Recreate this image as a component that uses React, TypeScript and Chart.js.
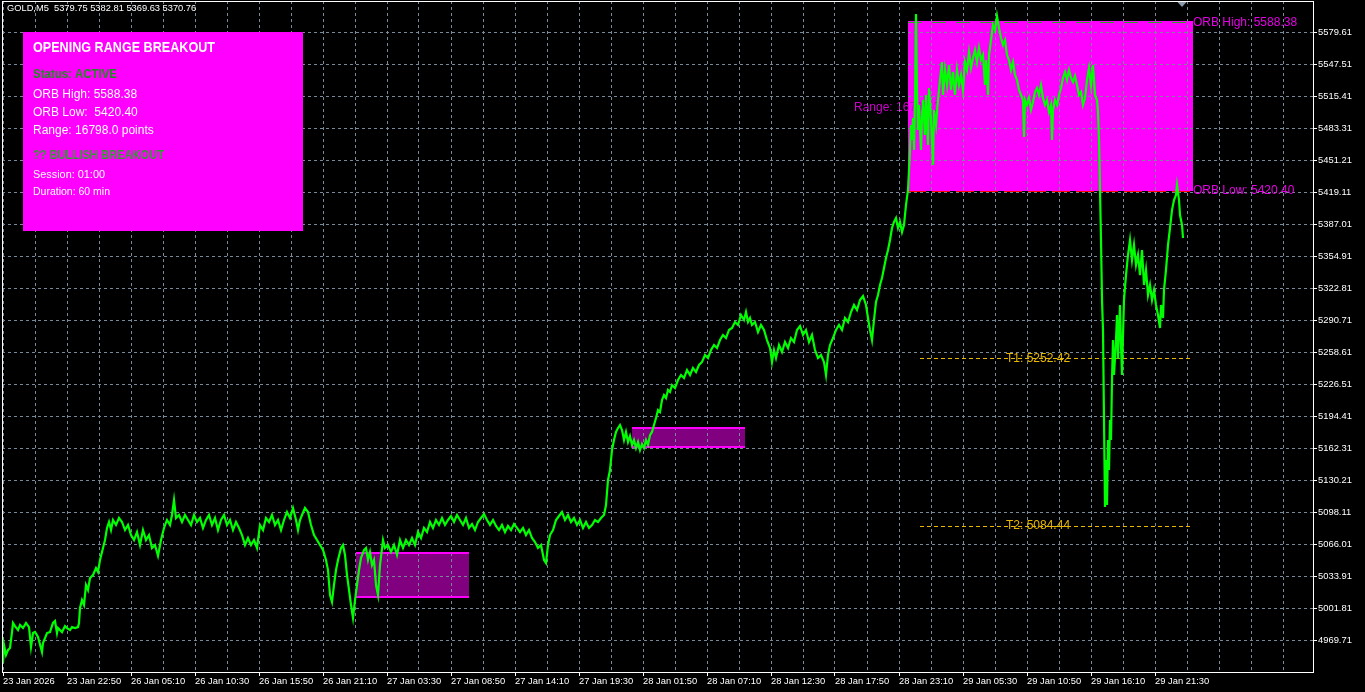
import React, { useEffect, useRef } from 'react';
import { Chart, registerables } from 'chart.js';

Chart.register(...registerables);

// ---------- DATA ----------
const symbolHeader = 'GOLD,M5  5379.75 5382.81 5369.63 5370.76';

const xTickLabels = [
  '23 Jan 2026', '23 Jan 22:50', '26 Jan 05:10', '26 Jan 10:30', '26 Jan 15:50',
  '26 Jan 21:10', '27 Jan 03:30', '27 Jan 08:50', '27 Jan 14:10', '27 Jan 19:30',
  '28 Jan 01:50', '28 Jan 07:10', '28 Jan 12:30', '28 Jan 17:50', '28 Jan 23:10',
  '29 Jan 05:30', '29 Jan 10:50', '29 Jan 16:10', '29 Jan 21:30',
];

const yTickValues = [
  4969.71, 5001.81, 5033.91, 5066.01, 5098.11, 5130.21, 5162.31, 5194.41, 5226.51, 5258.61,
  5290.71, 5322.81, 5354.91, 5387.01, 5419.11, 5451.21, 5483.31, 5515.41, 5547.51, 5579.61,
];

const yMin = 4937.91;
const yMax = 5611.01;
const barCount = 1311;

// price trace: [bar number, price]
const trace23Jan: number[][] = [
  [1, 4946.9], [2, 4965.0], [4, 4955.0], [6, 4960.0], [8, 4962.0], [10, 4978.0], [11, 4987.1], [13, 4984.0],
  [16, 4980.0], [18, 4985.1], [21, 4982.0], [24, 4987.1], [27, 4983.0], [29, 4963.0], [31, 4977.0], [33, 4978.0],
  [36, 4973.0], [40, 4958.0], [41, 4967.0], [45, 4977.0], [48, 4978.0], [51, 4987.1], [53, 4989.1], [55, 4977.0],
  [56, 4982.0], [60, 4978.0], [63, 4984.0], [65, 4982.0], [68, 4980.0], [70, 4983.0], [73, 4982.0], [76, 4983.0],
  [77, 4987.1], [78, 5002.1],
];

const trace26to28Jan: number[][] = [
  [80, 5010.1], [82, 5005.1], [84, 5025.2], [86, 5020.2], [88, 5032.2], [91, 5035.2], [94, 5042.2], [96, 5038.2],
  [98, 5050.3], [101, 5062.3], [103, 5070.3], [105, 5082.4], [107, 5088.4], [109, 5080.3], [111, 5090.4], [114, 5085.4],
  [117, 5092.4], [120, 5088.4], [123, 5080.3], [126, 5085.4], [129, 5075.3], [132, 5070.3], [135, 5078.3], [138, 5065.3],
  [141, 5080.3], [144, 5070.3], [147, 5075.3], [150, 5062.3], [153, 5065.3], [156, 5054.3], [159, 5070.3], [162, 5082.4],
  [165, 5090.4], [168, 5085.4], [170, 5095.4], [172, 5110.4], [174, 5092.4], [177, 5095.4], [180, 5088.4], [183, 5095.4],
  [186, 5090.4], [189, 5085.4], [192, 5095.4], [195, 5088.4], [198, 5092.4], [201, 5082.4], [204, 5090.4], [207, 5095.4],
  [210, 5085.4], [213, 5092.4], [216, 5080.3], [219, 5090.4], [222, 5095.4], [225, 5085.4], [228, 5090.4], [231, 5080.3],
  [234, 5088.4], [237, 5082.4], [240, 5075.3], [243, 5065.3], [246, 5072.3], [249, 5065.3], [252, 5070.3], [255, 5062.3],
  [258, 5085.4], [261, 5080.3], [264, 5092.4], [267, 5088.4], [270, 5095.4], [273, 5085.4], [276, 5090.4], [279, 5080.3],
  [282, 5090.4], [285, 5098.4], [288, 5092.4], [291, 5102.4], [294, 5090.4], [296, 5080.3], [298, 5090.4], [300, 5095.4],
  [303, 5102.4], [306, 5098.4], [309, 5085.4], [312, 5075.3], [315, 5070.3], [318, 5065.3], [321, 5060.3], [324, 5050.3],
  [326, 5040.2], [328, 5015.1], [330, 5008.1], [332, 5025.2], [334, 5040.2], [336, 5050.3], [339, 5062.3], [341, 5065.3],
  [343, 5055.3], [345, 5035.2], [347, 5020.2], [349, 5005.1], [351, 4992.1], [353, 5010.1], [355, 5025.2], [357, 5040.2],
  [359, 5052.3], [362, 5060.3], [364, 5062.3], [366, 5050.3], [368, 5058.3], [370, 5045.2], [372, 5050.3], [374, 5025.2],
  [376, 5015.1], [378, 5045.2], [381, 5070.3], [383, 5062.3], [386, 5065.3], [389, 5058.3], [392, 5065.3], [395, 5055.3],
  [398, 5070.3], [401, 5062.3], [404, 5070.3], [407, 5065.3], [410, 5072.3], [413, 5065.3], [416, 5078.3], [419, 5072.3],
  [422, 5082.4], [425, 5078.3], [428, 5088.4], [431, 5082.4], [434, 5090.4], [437, 5085.4], [440, 5092.4], [443, 5085.4],
  [446, 5090.4], [449, 5094.4], [452, 5088.4], [455, 5095.4], [458, 5090.4], [461, 5085.4], [464, 5092.4], [467, 5082.4],
  [470, 5086.4], [473, 5080.3], [476, 5088.4], [479, 5092.4], [482, 5096.4], [485, 5090.4], [488, 5085.4], [491, 5090.4],
  [494, 5084.4], [497, 5080.3], [500, 5085.4], [503, 5078.3], [506, 5084.4], [509, 5080.3], [512, 5086.4], [515, 5082.4],
  [518, 5078.3], [521, 5082.4], [524, 5075.3], [527, 5080.3], [530, 5072.3], [533, 5068.3], [536, 5062.3], [539, 5065.3],
  [542, 5050.3], [544, 5047.2], [546, 5065.3], [548, 5075.3], [551, 5080.3], [554, 5090.4], [557, 5094.4], [560, 5098.4],
  [563, 5090.4], [566, 5095.4], [569, 5088.4], [572, 5092.4], [575, 5085.4], [578, 5090.4], [581, 5082.4], [584, 5088.4],
  [587, 5082.4], [590, 5085.4], [593, 5090.4], [596, 5088.4], [599, 5092.4], [602, 5095.4], [604, 5105.4], [606, 5130.5],
  [608, 5140.5], [610, 5160.6], [612, 5170.6], [614, 5178.7], [616, 5182.7], [618, 5185.7], [620, 5180.7], [622, 5170.6],
  [624, 5178.7], [626, 5168.6], [628, 5174.6], [630, 5165.6], [632, 5170.6], [634, 5162.6], [636, 5168.6], [638, 5160.6],
  [640, 5166.6], [642, 5162.6], [644, 5170.6], [646, 5165.6], [648, 5175.6], [650, 5178.7], [652, 5185.7], [654, 5192.7],
  [656, 5200.7], [658, 5198.7], [660, 5210.8], [662, 5215.8], [664, 5212.8], [666, 5220.8], [668, 5218.8], [670, 5225.8],
  [673, 5222.8], [676, 5230.8], [679, 5235.8], [682, 5232.8], [685, 5240.8], [688, 5235.8], [691, 5242.9], [694, 5238.8],
  [697, 5245.9], [700, 5248.9], [703, 5255.9], [706, 5252.9], [709, 5260.9], [712, 5265.9], [715, 5262.9], [718, 5270.9],
  [721, 5276.0], [724, 5272.9], [727, 5281.0], [730, 5283.0], [733, 5289.0], [736, 5286.0], [739, 5296.0], [742, 5291.0],
  [744, 5299.0], [746, 5289.0], [748, 5293.0], [750, 5286.0], [753, 5289.0], [756, 5279.0], [759, 5286.0], [762, 5281.0],
  [765, 5270.9], [768, 5262.9], [770, 5248.9], [772, 5260.9], [774, 5252.9], [777, 5265.9], [780, 5258.9], [783, 5268.9],
  [786, 5262.9], [789, 5272.9], [792, 5268.9], [795, 5281.0], [798, 5285.0], [801, 5276.0], [804, 5281.0], [807, 5268.9],
  [810, 5276.0], [813, 5260.9], [816, 5252.9], [819, 5255.9], [822, 5248.9], [824, 5235.8], [826, 5255.9], [828, 5265.9],
  [831, 5272.9], [834, 5281.0], [837, 5286.0], [840, 5281.0], [843, 5293.0], [846, 5289.0], [849, 5299.0], [852, 5306.1],
  [855, 5301.0], [858, 5311.1], [861, 5315.1], [864, 5306.1], [866, 5293.0], [868, 5281.0], [870, 5270.9], [872, 5291.0],
  [874, 5309.1], [876, 5316.1], [878, 5326.1], [880, 5333.1], [882, 5343.2], [884, 5353.2], [886, 5361.2], [888, 5371.3],
  [890, 5383.3], [892, 5389.3], [894, 5393.3], [896, 5383.3], [898, 5389.3], [900, 5379.3], [902, 5386.3], [904, 5406.4],
  [906, 5421.4],
];

const traceOrbWindow: number[][] = [
  [907, 5441.5], [908, 5461.5], [909, 5486.6], [910, 5471.6], [911, 5493.6], [912, 5461.5], [913, 5511.7], [914, 5598.0],
  [915, 5521.7], [916, 5481.6], [917, 5506.7], [919, 5461.5], [920, 5493.6], [921, 5511.7], [923, 5476.6], [924, 5516.7],
  [926, 5466.5], [927, 5523.7], [929, 5491.6], [931, 5446.5], [932, 5501.7], [934, 5486.6], [936, 5511.7], [938, 5531.8],
  [940, 5549.8], [941, 5516.7], [943, 5541.8], [945, 5526.7], [947, 5546.8], [949, 5521.7], [951, 5539.8], [953, 5516.7],
  [955, 5541.8], [957, 5526.7], [959, 5536.8], [961, 5521.7], [963, 5549.8], [965, 5541.8], [967, 5559.8], [969, 5543.8],
  [971, 5553.8], [973, 5561.8], [975, 5549.8], [977, 5563.9], [979, 5551.8], [981, 5556.8], [983, 5526.7], [984, 5551.8],
  [986, 5516.7], [987, 5556.8], [989, 5571.9], [991, 5586.9], [993, 5581.9], [995, 5596.0], [997, 5583.9], [999, 5573.9],
  [1001, 5566.9], [1003, 5571.9], [1005, 5556.8], [1007, 5551.8], [1009, 5541.8], [1011, 5549.8], [1013, 5536.8], [1015, 5531.8],
  [1017, 5521.7], [1019, 5516.7], [1021, 5511.7], [1022, 5474.6], [1023, 5511.7], [1025, 5506.7], [1027, 5513.7], [1029, 5501.7],
  [1031, 5509.7], [1033, 5519.7], [1035, 5523.7], [1037, 5516.7], [1039, 5526.7], [1041, 5513.7], [1043, 5506.7], [1045, 5511.7],
  [1047, 5499.7], [1049, 5506.7], [1050, 5471.6], [1051, 5501.7], [1053, 5511.7], [1055, 5506.7], [1057, 5516.7], [1059, 5523.7],
  [1061, 5533.8], [1063, 5539.8], [1065, 5531.8], [1067, 5541.8], [1069, 5533.8], [1071, 5529.7], [1073, 5535.8], [1075, 5526.7],
  [1077, 5516.7], [1079, 5519.7], [1081, 5506.7], [1083, 5513.7], [1085, 5531.8], [1087, 5543.8], [1089, 5526.7], [1091, 5546.8],
  [1093, 5516.7], [1095, 5511.7], [1096, 5499.7], [1097, 5471.6], [1098, 5421.4],
];

const traceAfterBreak: number[][] = [
  [1099, 5371.3], [1100, 5311.1], [1101, 5281.0], [1102, 5190.7], [1103, 5103.4], [1104, 5150.6], [1105, 5105.4], [1106, 5170.6],
  [1107, 5140.5], [1108, 5190.7], [1109, 5170.6], [1110, 5230.8], [1111, 5270.9], [1112, 5235.8], [1114, 5270.9], [1115, 5296.0],
  [1116, 5251.9], [1117, 5281.0], [1118, 5306.1], [1119, 5265.9], [1120, 5235.8], [1121, 5276.0], [1122, 5311.1], [1124, 5336.1],
  [1126, 5356.2], [1128, 5371.3], [1130, 5351.2], [1132, 5366.2], [1134, 5346.2], [1136, 5356.2], [1138, 5336.1], [1140, 5361.2],
  [1142, 5326.1], [1144, 5341.2], [1146, 5316.1], [1148, 5326.1], [1150, 5311.1], [1152, 5321.1], [1154, 5306.1], [1156, 5296.0],
  [1158, 5283.0], [1159, 5306.1], [1161, 5293.0], [1162, 5321.1], [1164, 5341.2], [1166, 5366.2], [1168, 5383.3], [1170, 5401.3],
  [1172, 5411.4], [1174, 5416.4], [1175, 5426.4], [1177, 5411.4], [1178, 5396.3], [1180, 5386.3], [1181, 5373.3],
];

// opening ranges (previous sessions + current ORB box)
const rangeStartBar = [354, 630, 906];
const rangeEndBar = [467, 743, 1191];
const rangeTop = [5057.6, 5182.7, 5590.9];
const rangeBottom = [5013.2, 5163.7, 5420.4];

const orbHigh = 5588.38;
const orbLow = 5420.4;

const targetNames = ['T1', 'T2'];
const targetValues = [5252.42, 5084.44];
const targetStartBar = 918;
const targetEndBar = 1191;
const targetLabelBar = 1004;
const rangeLabelBar = 852;

// ---------- STYLE ----------
const FONT = '"Liberation Sans", Arial, Helvetica, sans-serif';
const GRID = '#778899';
const GOLD = '#e8b800';

const mtPlugin = {
  id: 'mtOverlay',
  beforeDraw(chart: any) {
    const { ctx } = chart;
    const xs = chart.scales.x;
    const ys = chart.scales.y;
    ctx.save();
    ctx.fillStyle = '#000000';
    ctx.fillRect(0, 0, chart.width, chart.height);
    for (let i = 0; i < rangeStartBar.length; i++) {
      const l = xs.getPixelForValue(rangeStartBar[i]);
      const r = xs.getPixelForValue(rangeEndBar[i]);
      const t = ys.getPixelForValue(rangeTop[i]);
      const b = ys.getPixelForValue(rangeBottom[i]);
      ctx.fillStyle = i === rangeStartBar.length - 1 ? '#ff00ff' : '#800080';
      ctx.fillRect(Math.round(l), Math.round(t), Math.round(r - l), Math.round(b - t));
    }
    const mid = (orbHigh + orbLow) / 2;
    ctx.font = `12px ${FONT}`;
    ctx.fillStyle = '#cc00cc';
    ctx.textBaseline = 'middle';
    ctx.textAlign = 'left';
    ctx.fillText(`Range: ${((orbHigh - orbLow) * 100).toFixed(1)}`, xs.getPixelForValue(rangeLabelBar), ys.getPixelForValue(mid));
    ctx.restore();
  },
  beforeDatasetsDraw(chart: any) {
    const { ctx } = chart;
    const xs = chart.scales.x;
    const ys = chart.scales.y;
    ctx.save();
    for (let i = 0; i < rangeStartBar.length - 1; i++) {
      const l = xs.getPixelForValue(rangeStartBar[i]);
      const r = xs.getPixelForValue(rangeEndBar[i]);
      ctx.strokeStyle = '#ff00ff';
      ctx.lineWidth = 2;
      for (const v of [rangeTop[i], rangeBottom[i]]) {
        const y = Math.round(ys.getPixelForValue(v));
        ctx.beginPath();
        ctx.moveTo(l, y);
        ctx.lineTo(r, y);
        ctx.stroke();
      }
    }
    const k = rangeStartBar.length - 1;
    const l = xs.getPixelForValue(rangeStartBar[k]);
    const r = xs.getPixelForValue(rangeEndBar[k]);
    ctx.lineWidth = 1;
    ctx.setLineDash([14, 10]);
    ctx.strokeStyle = '#2e9e2e';
    let y = Math.round(ys.getPixelForValue(rangeTop[k])) + 1.5;
    ctx.beginPath(); ctx.moveTo(l, y); ctx.lineTo(r, y); ctx.stroke();
    ctx.setLineDash([18, 6]);
    ctx.strokeStyle = '#ff0000';
    y = Math.round(ys.getPixelForValue(orbLow)) + 0.5;
    ctx.beginPath(); ctx.moveTo(l, y); ctx.lineTo(r, y); ctx.stroke();
    ctx.setLineDash([4, 3]);
    ctx.strokeStyle = GOLD;
    for (let i = 0; i < targetValues.length; i++) {
      const ty = Math.round(ys.getPixelForValue(targetValues[i])) + 0.5;
      ctx.beginPath();
      ctx.moveTo(xs.getPixelForValue(targetStartBar), ty);
      ctx.lineTo(xs.getPixelForValue(targetEndBar), ty);
      ctx.stroke();
    }
    ctx.restore();
  },
  afterDraw(chart: any) {
    const { ctx, chartArea: a } = chart;
    const xs = chart.scales.x;
    const ys = chart.scales.y;
    ctx.save();
    ctx.textBaseline = 'middle';
    ctx.textAlign = 'left';
    ctx.font = `12px ${FONT}`;
    ctx.fillStyle = GOLD;
    for (let i = 0; i < targetValues.length; i++) {
      ctx.fillText(`${targetNames[i]}: ${targetValues[i].toFixed(2)}`, xs.getPixelForValue(targetLabelBar), ys.getPixelForValue(targetValues[i]));
    }
    const k = rangeStartBar.length - 1;
    const rx = xs.getPixelForValue(rangeEndBar[k]);
    ctx.fillStyle = '#e600e6';
    ctx.fillText(`ORB High: ${orbHigh.toFixed(2)}`, rx, ys.getPixelForValue(rangeTop[k]) + 1.5);
    ctx.fillText(`ORB Low: ${orbLow.toFixed(2)}`, rx, ys.getPixelForValue(orbLow));
    ctx.strokeStyle = '#ffffff';
    ctx.lineWidth = 1;
    ctx.strokeRect(Math.round(a.left) + 0.5, Math.round(a.top) + 0.5, Math.round(a.right - a.left), Math.round(a.bottom - a.top));
    ctx.fillStyle = '#8a9aaa';
    ctx.beginPath();
    ctx.moveTo(1177.5, 2); ctx.lineTo(1186.5, 2); ctx.lineTo(1182, 7); ctx.closePath(); ctx.fill();
    ctx.font = `9.3px ${FONT}`;
    ctx.fillStyle = '#ffffff';
    ctx.fillText(symbolHeader, 7, 8.5);
    ctx.fillStyle = '#ff00ff';
    ctx.fillRect(23, 32, 280, 199);
    const panel = [
      { t: 'OPENING RANGE BREAKOUT', y: 48, f: `bold 14px ${FONT}`, c: '#ffffff', w: 182 },
      { t: 'Status: ACTIVE', y: 74.5, f: `bold 12px ${FONT}`, c: '#1c8c1c', w: 84 },
      { t: `ORB High: ${orbHigh.toFixed(2)}`, y: 95, f: `12px ${FONT}`, c: '#ffffff', w: 0 },
      { t: `ORB Low:  ${orbLow.toFixed(2)}`, y: 112.7, f: `12px ${FONT}`, c: '#ffffff', w: 0 },
      { t: `Range: ${((orbHigh - orbLow) * 100).toFixed(1)} points`, y: 130.3, f: `12px ${FONT}`, c: '#ffffff', w: 124 },
      { t: '?? BULLISH BREAKOUT', y: 155.5, f: `bold 12px ${FONT}`, c: '#359a35', w: 131 },
      { t: 'Session: 01:00', y: 175, f: `11px ${FONT}`, c: '#ffffff', w: 72 },
      { t: 'Duration: 60 min', y: 191.5, f: `11px ${FONT}`, c: '#ffffff', w: 77 },
    ];
    for (const p of panel) {
      ctx.font = p.f;
      ctx.fillStyle = p.c;
      if (p.w) ctx.fillText(p.t, 33, p.y, p.w);
      else ctx.fillText(p.t, 33, p.y);
    }
    ctx.restore();
  },
};

export default function App() {
  const ref = useRef<HTMLCanvasElement | null>(null);

  useEffect(() => {
    document.body.style.margin = '0';
    document.body.style.background = '#000';
    const points = [...trace23Jan, ...trace26to28Jan, ...traceOrbWindow, ...traceAfterBreak].map((p) => ({ x: p[0], y: p[1] }));
    const gridBars: number[] = [];
    for (let b = 1; b <= barCount; b += 32) gridBars.push(b);

    const chart = new Chart(ref.current as HTMLCanvasElement, {
      type: 'line',
      data: {
        datasets: [
          {
            data: points,
            borderColor: '#00ff00',
            borderWidth: 2.2,
            pointRadius: 0,
            tension: 0,
            fill: false,
            borderJoinStyle: 'miter',
          } as any,
        ],
      },
      options: {
        animation: false,
        responsive: false,
        maintainAspectRatio: false,
        devicePixelRatio: 1,
        events: [],
        layout: { padding: { left: 2, top: 1, right: 0, bottom: 0 } },
        plugins: { legend: { display: false }, tooltip: { enabled: false }, title: { display: false } },
        scales: {
          x: {
            type: 'linear',
            position: 'bottom',
            min: 0,
            max: barCount,
            bounds: 'data',
            afterBuildTicks: (s: any) => {
              s.ticks = gridBars.map((v) => ({ value: v }));
            },
            afterFit: (s: any) => {
              s.height = 20;
              s.paddingLeft = 0;
              s.paddingRight = 0;
            },
            ticks: {
              autoSkip: false,
              maxRotation: 0,
              minRotation: 0,
              align: 'start',
              padding: 0,
              color: '#ffffff',
              font: { family: FONT, size: 9.4 },
              callback: (_v: any, i: number) => (i % 2 === 0 ? xTickLabels[i / 2] ?? '' : ''),
            },
            grid: {
              color: GRID,
              lineWidth: 1,
              drawTicks: true,
              tickLength: 4,
              tickWidth: 1,
              tickColor: (c: any) => (c.index % 2 === 0 && c.index / 2 < xTickLabels.length ? '#ffffff' : 'rgba(0,0,0,0)'),
            },
            border: { display: false, dash: [3, 3] },
          } as any,
          y: {
            type: 'linear',
            position: 'right',
            min: yMin,
            max: yMax,
            bounds: 'data',
            afterBuildTicks: (s: any) => {
              s.ticks = yTickValues.map((v) => ({ value: v }));
            },
            afterFit: (s: any) => {
              s.width = 52;
              s.paddingTop = 0;
              s.paddingBottom = 0;
            },
            ticks: {
              autoSkip: false,
              padding: 1,
              color: '#ffffff',
              font: { family: FONT, size: 9.4 },
              callback: (v: any) => Number(v).toFixed(2),
            },
            grid: {
              color: GRID,
              lineWidth: 1,
              drawTicks: true,
              tickLength: 4,
              tickWidth: 1,
              tickColor: '#ffffff',
            },
            border: { display: false, dash: [3, 3] },
          } as any,
        },
      },
      plugins: [mtPlugin as any],
    });
    return () => chart.destroy();
  }, []);

  return (
    <div style={{ width: 1365, height: 692, background: '#000', overflow: 'hidden' }}>
      <canvas ref={ref} width={1365} height={692} style={{ display: 'block', width: 1365, height: 692 }} />
    </div>
  );
}
